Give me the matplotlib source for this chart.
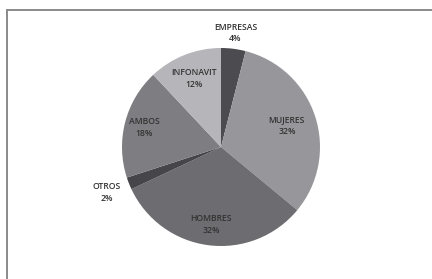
import matplotlib.pyplot as plt
import numpy as np

# slices, clockwise from the top
labels = ['EMPRESAS', 'MUJERES', 'HOMBRES', 'OTROS', 'AMBOS', 'INFONAVIT']
values = [4, 32, 32, 2, 18, 12]
colors = ['#4b4b50', '#97979b', '#6c6c71', '#46464a', '#7d7d82', '#b6b6ba']
label_dist = [1.16, 0.70, 0.79, 1.24, 0.80, 0.74]

W, H = 432, 279
cx, cy, r = 221, H - 147, 99

fig = plt.figure(figsize=(W / 100, H / 100), dpi=100)
ax = fig.add_axes([0, 0, 1, 1])

wedges, _ = ax.pie(values, colors=colors, startangle=90, counterclock=False,
                   center=(cx, cy), radius=r, frame=True,
                   wedgeprops=dict(linewidth=0))

for w, lab, val, d in zip(wedges, labels, values, label_dist):
    ang = np.deg2rad((w.theta1 + w.theta2) / 2)
    x = cx + d * r * np.cos(ang)
    y = cy + d * r * np.sin(ang)
    ax.text(x, y, '{}\n{}%'.format(lab, val), ha='center', va='center',
            fontsize=6.2, family='Open Sans', fontweight='semibold',
            color='#333333', linespacing=1.4)

ax.set_xlim(0, W)
ax.set_ylim(0, H)
ax.set_aspect('auto')
ax.axis('off')

# chart-area border (left and top edges visible)
ax.plot([6.5, 6.5, W], [0, H - 9.5, H - 9.5], color='#8a8a8a', linewidth=1.4,
        solid_capstyle='butt', solid_joinstyle='miter')

fig.savefig('out.png', dpi=100)
